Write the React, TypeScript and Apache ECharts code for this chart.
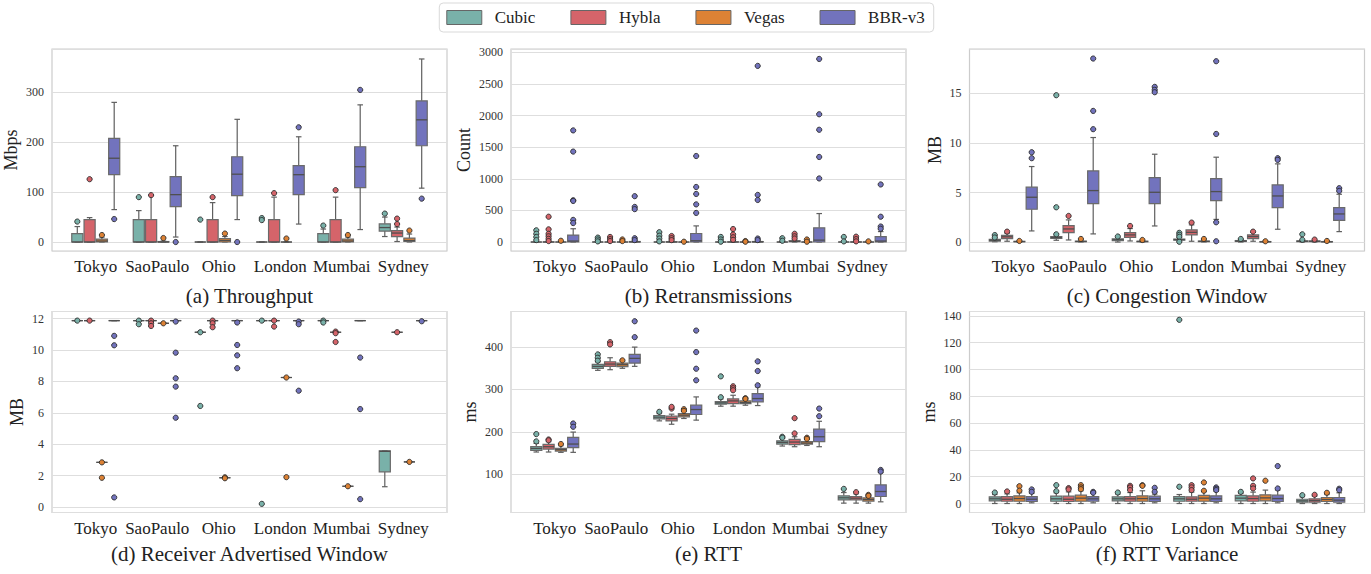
import React, { useEffect, useRef } from 'react';
import * as echarts from 'echarts';

const categories = ['Tokyo', 'SaoPaulo', 'Ohio', 'London', 'Mumbai', 'Sydney'];
const algorithms = ['Cubic', 'Hybla', 'Vegas', 'BBR-v3'];
const colors = ['#79b1a9', '#d5646a', '#dd8235', '#7273bd'];

// box rows: [whiskerLow, q1, median, q3, whiskerHigh] per city
// (a) Throughput (Mbps)
const thrCubic = [[0, 0, 0, 17, 31], [0, 0, 0, 45, 63], [0, 0, 0, 0, 0], [0, 0, 0, 0, 0], [0, 0, 0, 17, 26], [11, 22, 29, 36.5, 50]];
const thrCubicOut = [[41], [90], [45], [48, 44], [33], [57]];
const thrHybla = [[0, 0, 0, 45, 49], [0, 0, 0, 45, 93], [0, 0, 0, 45, 79], [0, 0, 0, 45, 90], [0, 0, 0, 45, 90], [1, 11, 18, 23, 30]];
const thrHyblaOut = [[126], [94], [90], [98], [104], [47, 36]];
const thrVegas = [[0, 0, 2, 6, 10], [0, 0, 0, 1, 2], [0, 0, 3, 7, 11], [0, 0, 0, 0, 0], [0, 0, 2, 6, 10], [0, 1, 3, 8, 16]];
const thrVegasOut = [[14], [8], [17], [7], [14], [23]];
const thrBbr = [[65, 135, 168, 208, 280], [10, 71, 95, 131, 193], [45, 93, 136, 171, 246], [36, 95, 135, 153, 211], [25, 109, 151, 191, 275], [108, 193, 245, 283, 367]];
const thrBbrOut = [[46], [0], [0], [230], [305], [87]];

// (b) Retransmissions (Count)
const retCubic = [[0, 0, 0, 0, 5], [0, 0, 0, 0, 3], [0, 0, 0, 0, 5], [0, 0, 0, 0, 3], [0, 0, 0, 0, 3], [0, 0, 0, 0, 3]];
const retCubicOut = [[185, 130, 80, 30], [70, 40, 10], [155, 100, 55, 10], [80, 40, 5], [60, 20], [80, 10]];
const retHybla = [[0, 0, 0, 2, 8], [0, 0, 0, 0, 5], [0, 0, 0, 5, 10], [0, 0, 0, 3, 8], [0, 5, 12, 20, 30], [0, 0, 0, 2, 5]];
const retHyblaOut = [[400, 200, 130, 90, 50, 15], [80, 45, 15], [95, 60, 30], [205, 120, 75, 35], [130, 90, 55], [85, 45, 10]];
const retVegas = [[0, 0, 0, 0, 0], [0, 0, 0, 0, 0], [0, 0, 0, 0, 0], [0, 0, 0, 0, 0], [0, 0, 0, 0, 0], [0, 0, 0, 0, 0]];
const retVegasOut = [[20], [40, 15], [5], [15, 5], [40, 5], [10]];
const retBbr = [[0, 0, 15, 110, 210], [0, 0, 2, 8, 20], [0, 0, 20, 135, 255], [0, 0, 2, 8, 20], [0, 0, 30, 225, 450], [0, 0, 15, 85, 165]];
const retBbrOut = [[1765, 1430, 660, 650, 350, 300], [725, 555, 520, 60, 30], [1360, 870, 760, 595, 460], [2785, 745, 665, 55, 30], [2895, 2020, 1775, 1345, 1005], [910, 400, 245, 210]];

// (c) Congestion Window (MB)
const cwnCubic = [[0.05, 0.12, 0.2, 0.3, 0.45], [0.2, 0.4, 0.48, 0.58, 0.72], [0.02, 0.15, 0.25, 0.35, 0.5], [0.12, 0.2, 0.27, 0.33, 0.5], [0.02, 0.08, 0.12, 0.17, 0.25], [0.02, 0.06, 0.1, 0.14, 0.2]];
const cwnCubicOut = [[0.72, 0.48], [0.8, 3.52, 14.8], [0.58], [0.95, 0.75, 0.55, 0.05], [0.33], [0.8, 0.25]];
const cwnHybla = [[0.1, 0.37, 0.55, 0.7, 0.9], [0.23, 0.97, 1.34, 1.68, 2.25], [0.13, 0.5, 0.74, 0.97, 1.38], [0.1, 0.74, 1.0, 1.24, 1.75], [0.1, 0.37, 0.57, 0.74, 1.0], [0.02, 0.06, 0.1, 0.13, 0.18]];
const cwnHyblaOut = [[1.07], [2.65], [1.64], [1.98], [1.07], [0.27]];
const cwnVegas = [[0.02, 0.05, 0.07, 0.09, 0.11], [0.03, 0.06, 0.08, 0.11, 0.15], [0.02, 0.05, 0.08, 0.1, 0.14], [0.03, 0.06, 0.09, 0.12, 0.16], [0.01, 0.03, 0.05, 0.07, 0.09], [0.01, 0.03, 0.05, 0.07, 0.09]];
const cwnVegasOut = [[0.13], [0.33], [0.23], [0.33], [0.1], [0.13]];
const cwnBbr = [[1.14, 3.32, 4.53, 5.54, 7.62], [0.84, 3.89, 5.2, 7.18, 10.54], [1.64, 3.89, 5.03, 6.51, 8.86], [2.3, 4.19, 5.1, 6.41, 8.56], [1.31, 3.49, 4.66, 5.77, 7.89], [1.07, 2.21, 2.85, 3.49, 4.83]];
const cwnBbrOut = [[9.06, 8.46], [18.49, 13.22, 11.38], [15.64, 15.34, 15.1], [18.22, 10.9, 2.01, 0.1], [8.46, 8.29], [5.44, 5.17]];

// (d) Receiver Advertised Window (MB)
const rwnCubic = [[11.87, 11.87, 11.87, 11.87, 11.87], [11.87, 11.87, 11.87, 11.87, 11.87], [11.13, 11.13, 11.13, 11.13, 11.13], [11.87, 11.87, 11.87, 11.87, 11.87], [11.87, 11.87, 11.87, 11.87, 11.87], [1.3, 2.25, 3.55, 3.59, 3.59]];
const rwnCubicOut = [[11.87], [11.87, 11.64], [11.13, 6.44], [11.87, 0.21], [11.87, 11.75], []];
const rwnHybla = [[11.87, 11.87, 11.87, 11.87, 11.87], [11.87, 11.87, 11.87, 11.87, 11.87], [11.87, 11.87, 11.87, 11.87, 11.87], [11.87, 11.87, 11.87, 11.87, 11.87], [11.13, 11.13, 11.13, 11.13, 11.13], [11.13, 11.13, 11.13, 11.13, 11.13]];
const rwnHyblaOut = [[11.87], [11.87, 11.7, 11.53], [11.87, 11.7, 11.45], [11.87, 11.49], [11.17, 11.07, 10.51], [11.13]];
const rwnVegas = [[2.85, 2.85, 2.85, 2.85, 2.85], [11.7, 11.7, 11.7, 11.7, 11.7], [1.87, 1.87, 1.87, 1.87, 1.87], [8.25, 8.25, 8.25, 8.25, 8.25], [1.33, 1.33, 1.33, 1.33, 1.33], [2.88, 2.88, 2.88, 2.88, 2.88]];
const rwnVegasOut = [[2.85, 1.87], [11.7], [1.9, 1.84], [8.25, 1.91], [1.33], [2.88]];
const rwnBbr = [[11.87, 11.87, 11.87, 11.87, 11.87], [11.87, 11.87, 11.87, 11.87, 11.87], [11.87, 11.87, 11.87, 11.87, 11.87], [11.87, 11.87, 11.87, 11.87, 11.87], [11.87, 11.87, 11.87, 11.87, 11.87], [11.87, 11.87, 11.87, 11.87, 11.87]];
const rwnBbrOut = [[10.9, 10.3, 0.62], [11.81, 9.83, 8.2, 7.67, 5.69], [11.75, 10.32, 9.66, 8.84], [11.81, 11.64, 7.41], [9.52, 6.24, 0.51], [11.83]];

// (e) RTT (ms)
const rttCubic = [[152.5, 156.4, 161, 165, 172.8], [345.2, 349.9, 354.6, 359.3, 364.7], [226, 230.8, 234.7, 238.6, 243], [260.6, 265.3, 268.4, 271.5, 277.8], [166.6, 171.3, 175.2, 179, 184.6], [31.9, 39.7, 44.4, 49.1, 56.9]];
const rttCubicOut = [[194.8, 177.5], [382.8, 374.9, 367.9], [247.3], [331, 281.7], [188.5, 186.2], [65.5]];
const rttHybla = [[152.5, 159.5, 165, 170.5, 176.8], [346.7, 354.6, 360, 365.5, 374.9], [218, 226, 231.6, 237, 241.8], [260.6, 266.8, 273.1, 277.8, 286.4], [165, 169.7, 176, 182.2, 188.5], [31.9, 39.7, 43.6, 47.5, 53.8]];
const rttHyblaOut = [[182, 180], [411.7, 406.3], [255, 259], [307.6, 302.9, 298.2], [232.4, 196.3], [57.7]];
const rttVegas = [[151.7, 154.8, 158, 161, 167.4], [350, 353.8, 358.5, 362.4, 367], [231.6, 235.5, 239.4, 243.3, 248.8], [262.9, 266.8, 269.2, 273, 276], [168, 171.3, 173.6, 176.8, 182.2], [31.9, 36.6, 40.5, 44.4, 47.5]];
const rttVegasOut = [[171.3], [368.7], [253.5, 249.6], [279.5, 277.8], [186.2, 183.5], [51.4, 49.1]];
const rttBbr = [[151.7, 162.7, 171.3, 187, 199.5], [354.6, 362.4, 373.4, 382.8, 400], [227.7, 241, 252.7, 263, 282.5], [262.1, 270.8, 278.6, 290.3, 306], [165, 176.8, 188.5, 206.5, 225], [35, 47.5, 59.3, 74.9, 103.9]];
const rttBbrOut = [[219.8, 212], [461, 423.5], [439, 388.2, 349, 321.7], [366.3, 343.6, 309.9], [255, 237], [110.2, 106.3]];

// (f) RTT Variance (ms)
const varCubic = [[0, 2, 3.5, 5, 6.7], [0, 1.7, 3.5, 5.5, 8], [0, 2, 3.5, 5, 7], [0, 1.7, 3.5, 5.2, 6.7], [0, 2, 4, 6, 7.5], [0, 1, 2, 3.2, 5]];
const varCubicOut = [[8.2], [9.2, 13.7], [8.2], [137, 12.5], [8.7], [6.2]];
const varHybla = [[0, 1.7, 3.2, 5.2, 7.2], [0, 1.5, 3.2, 5.5, 8.7], [0, 1.7, 3.5, 5.2, 8.2], [0, 1.7, 3.2, 5, 8.5], [0, 1.7, 3.7, 5.7, 8.5], [0, 1, 2.2, 3.5, 5.5]];
const varHyblaOut = [[9], [11.5, 10.5], [13.2, 12, 10], [13.7, 12, 10], [18.7, 13.2, 11.2], [6.5]];
const varVegas = [[0, 1.7, 3.7, 5.7, 8], [0, 1.7, 4, 6.2, 9.5], [0, 1.7, 3.7, 5.7, 9.5], [0, 1.7, 4, 6, 8.7], [0, 2, 4.2, 6.5, 10], [0, 1.5, 3, 4.5, 6.7]];
const varVegasOut = [[12.9, 9.6], [13.7, 12, 10.7], [13.7, 13.2], [15.7, 9.5], [17], [8]];
const varBbr = [[0.5, 1.5, 3.2, 5.2, 7.5], [0.5, 1.7, 3.5, 5.2, 7.5], [0.5, 1.5, 3.5, 5.5, 7], [0.5, 1.5, 3.5, 5.7, 9], [0.5, 1.5, 3.7, 6.2, 10], [0, 1, 2.5, 4.5, 8]];
const varBbrOut = [[10.5, 8.7], [8.7, 8], [11.7, 8.7], [12, 11, 10], [27.9, 11.2], [11, 10]];

const panels = [
  { title: '(a) Throughput', yName: 'Mbps', min: -18, max: 387, step: 100, nameGap: 32, boxes: [thrCubic, thrHybla, thrVegas, thrBbr], outs: [thrCubicOut, thrHyblaOut, thrVegasOut, thrBbrOut] },
  { title: '(b) Retransmissions', yName: 'Count', min: -142, max: 3052, step: 500, nameGap: 38, boxes: [retCubic, retHybla, retVegas, retBbr], outs: [retCubicOut, retHyblaOut, retVegasOut, retBbrOut] },
  { title: '(c) Congestion Window', yName: 'MB', min: -0.88, max: 19.45, step: 5, nameGap: 26, boxes: [cwnCubic, cwnHybla, cwnVegas, cwnBbr], outs: [cwnCubicOut, cwnHyblaOut, cwnVegasOut, cwnBbrOut] },
  { title: '(d) Receiver Advertised Window', yName: 'MB', min: -0.34, max: 12.45, step: 2, nameGap: 26, boxes: [rwnCubic, rwnHybla, rwnVegas, rwnBbr], outs: [rwnCubicOut, rwnHyblaOut, rwnVegasOut, rwnBbrOut] },
  { title: '(e) RTT', yName: 'ms', min: 9.8, max: 484, step: 100, nameGap: 32, boxes: [rttCubic, rttHybla, rttVegas, rttBbr], outs: [rttCubicOut, rttHyblaOut, rttVegasOut, rttBbrOut] },
  { title: '(f) RTT Variance', yName: 'ms', min: -6.7, max: 143.2, step: 20, nameGap: 32, boxes: [varCubic, varHybla, varVegas, varBbr], outs: [varCubicOut, varHyblaOut, varVegasOut, varBbrOut] },
];

const FONT = "'Liberation Serif', 'DejaVu Serif', 'Times New Roman', serif";
const colLeft = [52, 511, 969.5];
const colW = 395;
const rowTop = [49, 311.5];
const rowH = [202, 201];
const inset = 13;
const titleY = [296, 554];

function buildOption() {
  const grid: any[] = [];
  const xAxis: any[] = [];
  const yAxis: any[] = [];
  const series: any[] = [];
  const graphic: any[] = [];

  panels.forEach((p, pi) => {
    const col = pi % 3;
    const row = Math.floor(pi / 3);
    const left = colLeft[col];
    const top = rowTop[row];
    const h = rowH[row];
    grid.push({ left, top, width: colW, height: h, show: true, borderColor: '#cccccc', borderWidth: 1.2, backgroundColor: 'transparent', containLabel: false, outerBoundsMode: 'none' });
    grid.push({ left: left + inset, top, width: colW - 2 * inset, height: h, containLabel: false, outerBoundsMode: 'none' });
    const gFrame = pi * 2;
    const gInner = pi * 2 + 1;
    xAxis.push({ type: 'value', gridIndex: gFrame, min: 0, max: 1, show: false });
    xAxis.push({
      type: 'category', gridIndex: gInner, data: categories, boundaryGap: true,
      axisLine: { show: false }, axisTick: { show: false }, splitLine: { show: false },
      axisLabel: { show: true, interval: 0, fontSize: 17, color: '#222', fontFamily: FONT, margin: 7 },
    });
    yAxis.push({
      type: 'value', gridIndex: gFrame, min: p.min, max: p.max, minInterval: p.step, maxInterval: p.step, splitNumber: 5,
      name: p.yName, nameLocation: 'middle', nameGap: p.nameGap, nameRotate: 90,
      nameTextStyle: { fontSize: 18, color: '#222', fontFamily: FONT },
      axisLine: { show: false }, axisTick: { show: false },
      axisLabel: {
        fontSize: 12, color: '#333', fontFamily: FONT, margin: 8, showMinLabel: false, showMaxLabel: false,
        formatter: (v: number) => {
          const k = Math.round(v / p.step);
          return Math.abs(k * p.step - v) < 1e-6 * p.step ? String(Math.round(k * p.step * 100) / 100) : '';
        },
      },
      splitLine: { show: true, lineStyle: { color: '#dedede', width: 1 } },
    });
    yAxis.push({ type: 'value', gridIndex: gInner, min: p.min, max: p.max, show: false, splitLine: { show: false } });

    algorithms.forEach((alg, ai) => {
      const boxes = p.boxes[ai];
      const outs = p.outs[ai];
      const color = colors[ai];
      series.push({
        type: 'custom', name: alg, xAxisIndex: gInner, yAxisIndex: gInner,
        itemStyle: { color },
        data: boxes.map((b, i) => [i, b[0], b[1], b[2], b[3], b[4]]),
        encode: { x: 0, y: [1, 2, 3, 4, 5] },
        clip: false,
        renderItem: (params: any, api: any) => {
          const ci = api.value(0);
          const band = api.size([1, 0])[0];
          const groupW = band * 0.8;
          const slot = groupW / 4;
          const center = api.coord([ci, p.min])[0];
          const cx = center - groupW / 2 + slot * (ai + 0.5);
          const bw = slot - 1.2;
          const Y = (v: number) => api.coord([ci, v])[1];
          const lo = Y(api.value(1));
          const q1 = Y(api.value(2));
          const med = Y(api.value(3));
          const q3 = Y(api.value(4));
          const hi = Y(api.value(5));
          const lineCol = '#5f5f5f';
          const lw = 1.2;
          const children: any[] = [
            { type: 'line', shape: { x1: cx, y1: lo, x2: cx, y2: q1 }, style: { stroke: lineCol, lineWidth: lw } },
            { type: 'line', shape: { x1: cx, y1: q3, x2: cx, y2: hi }, style: { stroke: lineCol, lineWidth: lw } },
            { type: 'line', shape: { x1: cx - bw / 4, y1: lo, x2: cx + bw / 4, y2: lo }, style: { stroke: lineCol, lineWidth: lw } },
            { type: 'line', shape: { x1: cx - bw / 4, y1: hi, x2: cx + bw / 4, y2: hi }, style: { stroke: lineCol, lineWidth: lw } },
            { type: 'rect', shape: { x: cx - bw / 2, y: q3, width: bw, height: Math.max(q1 - q3, 0) }, style: { fill: color, stroke: '#6a6a6a', lineWidth: lw } },
            { type: 'line', shape: { x1: cx - bw / 2, y1: med, x2: cx + bw / 2, y2: med }, style: { stroke: '#4f4f4f', lineWidth: 1.3 } },
          ];
          (outs[params.dataIndex] || []).forEach((v: number) => {
            children.push({ type: 'circle', shape: { cx, cy: Y(v), r: 2.6 }, style: { fill: color, stroke: '#2a2a2a', lineWidth: 0.9 } });
          });
          return { type: 'group', children };
        },
      });
    });

    graphic.push({
      type: 'text', x: left + colW / 2, y: titleY[row],
      style: { text: p.title, fontSize: 21, fontFamily: FONT, fill: '#222', textAlign: 'center', textVerticalAlign: 'middle', align: 'center', verticalAlign: 'middle' },
    });
  });

  return {
    animation: false,
    backgroundColor: '#ffffff',
    color: colors,
    textStyle: { fontFamily: FONT },
    legend: {
      data: algorithms, top: 3, left: 'center', icon: 'rect', itemWidth: 35, itemHeight: 14, itemGap: 35,
      padding: [6, 9, 6, 7], borderColor: '#d9d9d9', borderWidth: 1, borderRadius: 4,
      itemStyle: { borderColor: '#666', borderWidth: 1 },
      textStyle: { fontSize: 17, color: '#222', fontFamily: FONT, padding: [0, 0, 0, 8] },
    },
    grid, xAxis, yAxis, series, graphic,
  };
}

export default function App() {
  const ref = useRef<HTMLDivElement>(null);
  useEffect(() => {
    if (!ref.current) return;
    const chart = echarts.init(ref.current, undefined, { renderer: 'svg' });
    chart.setOption(buildOption() as any);
    return () => chart.dispose();
  }, []);
  return <div ref={ref} style={{ position: 'fixed', left: 0, top: 0, width: 1371, height: 574, background: '#fff' }} />;
}
